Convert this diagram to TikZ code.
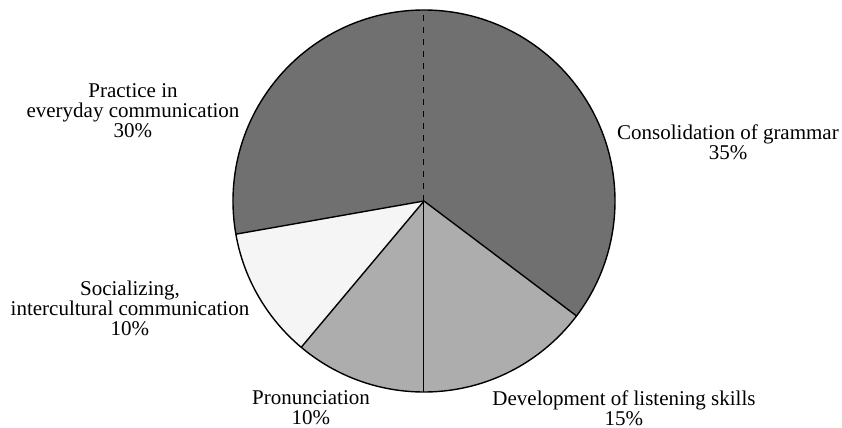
\documentclass[tikz,border=0pt]{standalone}
\usepackage{fontspec}
\setmainfont{Liberation Serif}
\begin{document}
\begin{tikzpicture}[x=1pt,y=1pt,darkslice/.style={fill=black!56},midslice/.style={fill=black!32},lightslice/.style={fill=black!4},rim/.style={draw=black, line width=0.7pt},lbl/.style={align=center, font=\fontsize{10.5}{10}\selectfont, inner sep=0pt}]
            \useasboundingbox (-212,-113.5) rectangle (209,100.5);
            \def\R{95.5}
            \coordinate (c) at (0,0);
            \coordinate (top) at (90:\R);
            \coordinate (b1) at (-37:\R);
            \coordinate (b2) at (-90:\R);
            \coordinate (b3) at (-130:\R);
            \coordinate (b4) at (-170:\R);
            % slices
            \fill[darkslice] (c) -- (top) arc[start angle=90, end angle=-37, radius=\R] -- cycle;
            \fill[midslice] (c) -- (b1) arc[start angle=-37, end angle=-130, radius=\R] -- cycle;
            \fill[lightslice] (c) -- (b3) arc[start angle=-130, end angle=-170, radius=\R] -- cycle;
            \fill[darkslice] (c) -- (b4) arc[start angle=-170, end angle=-270, radius=\R] -- cycle;
            \draw[rim] (c) circle[radius=\R];
            \draw[rim] (c) -- (b1);
            \draw[rim, line width=0.5pt] (c) -- (b2);
            \draw[rim] (c) -- (b3);
            \draw[rim] (c) -- (b4);
            \draw[dashed, line width=0.5pt] (c) -- (top);
            % labels
            \node[lbl] (practice) at (-145.5,45) {Practice in\\everyday communication\\30\%};
            \node[lbl] (grammar) at (152,29.5) {Consolidation of grammar\\35\%};
            \node[lbl] (social) at (-147,-53.5) {Socializing,\\intercultural communication\\10\%};
            \node[lbl] (pron) at (-56.5,-103.5) {Pronunciation\\10\%};
            \node[lbl] (listen) at (100,-103.5) {Development of listening skills\\15\%};
        \end{tikzpicture}
\end{document}
